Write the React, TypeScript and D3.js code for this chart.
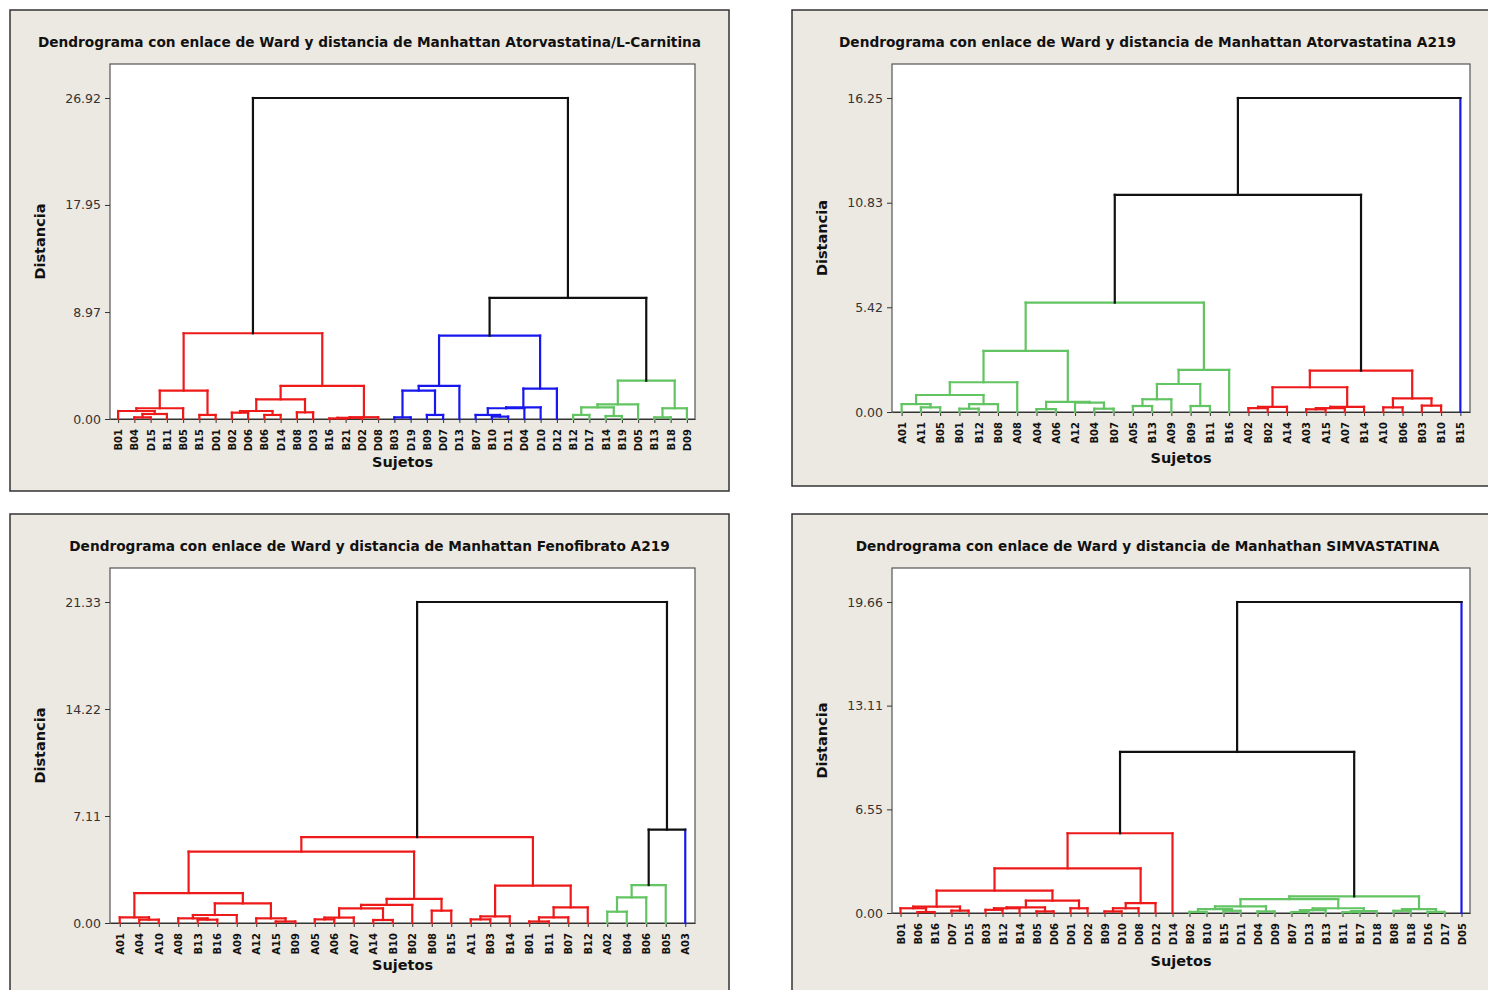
import { useEffect, useRef } from "react"
import * as d3 from "d3"

// a child is either a leaf label or the index of an earlier merge
type Child = string | number
type Merge = [Child, Child, number]

// --- Atorvastatina/L-Carnitina ---
const title1 = "Dendrograma con enlace de Ward y distancia de Manhattan Atorvastatina/L-Carnitina"
const leaves1 = ["B01","B04","D15","B11","B05","B15","D01","B02","D06","B06","D14","B08","D03","B16","B21","D02","D08",
  "B03","D19","B09","D07","D13","B07","B10","D11","D04","D10","D12",
  "B12","D17","B14","B19","D05","B13","B18","D09"]
const merges1: Merge[] = [
  ["B04","D15",0.14], [0,"B11",0.42], ["B01",1,0.67], [2,"B05",0.9], ["B15","D01",0.34], [3,4,2.38],
  ["B02","D06",0.53], ["B06","D14",0.34], [6,7,0.67], ["B08","D03",0.56], [8,9,1.65],
  ["B16","B21",0.05], [11,"D02",0.1], [12,"D08",0.15], [10,13,2.77], [5,14,7.19],
  ["B03","D19",0.14], ["B09","D07",0.34], [16,17,2.38], [18,"D13",2.77],
  ["B10","D11",0.2], ["B07",20,0.34], [21,"D04",0.9], [22,"D10",0.98], [23,"D12",2.55], [19,24,6.99],
  ["B12","D17",0.34], ["B14","B19",0.25], [26,27,0.98], [28,"D05",1.23], ["B13","B18",0.14], [30,"D09",0.9], [29,31,3.21],
  [25,32,10.15], [15,33,26.92],
]
const clusters1: Child[] = [15, 25, 32]
const ticks1 = ["0.00", "8.97", "17.95", "26.92"]

// --- Atorvastatina A219 ---
const title2 = "Dendrograma con enlace de Ward y distancia de Manhattan Atorvastatina A219"
const leaves2 = ["A01","A11","B05","B01","B12","B08","A08","A04","A06","A12","B04","B07","A05","B13","A09","B09","B11","B16",
  "A02","B02","A14","A03","A15","A07","B14","A10","B06","B03","B10","B15"]
const merges2: Merge[] = [
  ["A11","B05",0.24], ["A01",0,0.41], ["B01","B12",0.17], [2,"B08",0.41], [1,3,0.88], [4,"A08",1.54],
  ["A04","A06",0.15], ["B04","B07",0.17], ["A12",7,0.48], [6,8,0.52], [5,9,3.16],
  ["A05","B13",0.31], [11,"A09",0.66], ["B09","B11",0.31], [12,13,1.45], [14,"B16",2.18], [10,15,5.66],
  ["A02","B02",0.2], [17,"A14",0.27], ["A03","A15",0.14], [19,"A07",0.2], [20,"B14",0.27], [18,21,1.28],
  ["A10","B06",0.24], ["B03","B10",0.33], [23,24,0.7], [22,25,2.14],
  [16,26,11.24], [27,"B15",16.25],
]
const clusters2: Child[] = [16, 26, "B15"]
const ticks2 = ["0.00", "5.42", "10.83", "16.25"]

// --- Fenofibrato A219 ---
const title3 = "Dendrograma con enlace de Ward y distancia de Manhattan Fenofibrato A219"
const leaves3 = ["A01","A04","A10","A08","B13","B16","A09","A12","A15","B09","A05","A06","A07","A14","B10","B02","B08","B15",
  "A11","B03","B14","B01","B11","B07","B12","A02","B04","B06","B05","A03"]
const merges3: Merge[] = [
  ["A04","A10",0.22], ["A01",0,0.38], ["B13","B16",0.22], ["A08",2,0.31], [3,"A09",0.53],
  ["A15","B09",0.1], ["A12",5,0.31], [4,6,1.3], [1,7,1.99],
  ["A05","A06",0.24], [9,"A07",0.36], ["A14","B10",0.2], [10,11,0.97], [12,"B02",1.2],
  ["B08","B15",0.82], [13,14,1.6], [8,15,4.74],
  ["A11","B03",0.24], [17,"B14",0.44], ["B01","B11",0.1], [19,"B07",0.38], [20,"B12",1.04], [18,21,2.48],
  [16,22,5.71],
  ["A02","B04",0.75], [24,"B06",1.7], [25,"B05",2.52],
  [26,"A03",6.2], [23,27,21.33],
]
const clusters3: Child[] = [23, 26, "A03"]
const ticks3 = ["0.00", "7.11", "14.22", "21.33"]

// --- SIMVASTATINA ---
const title4 = "Dendrograma con enlace de Ward y distancia de Manhathan SIMVASTATINA"
const leaves4 = ["B01","B06","B16","D07","D15","B03","B12","B14","B05","D06","D01","D02","B09","D10","D08","D12","D14",
  "B02","B10","B15","D11","D04","D09","B07","D13","B13","B11","B17","D18","B08","B18","D16","D17","D05"]
const merges4: Merge[] = [
  ["B06","B16",0.06], ["B01",0,0.3], ["D07","D15",0.15], [1,2,0.4],
  ["B03","B12",0.2], [4,"B14",0.3], ["B05","D06",0.1], [5,6,0.36], ["D01","D02",0.3], [7,8,0.78], [3,9,1.41],
  ["B09","D10",0.1], [11,"D08",0.3], [12,"D12",0.63], [10,13,2.82], [14,"D14",5.04],
  ["B02","B10",0.07], ["B15","D11",0.14], [16,17,0.25], ["D04","D09",0.1], [18,19,0.42],
  ["B07","D13",0.06], [21,"B13",0.18], ["B11","B17",0.05], [23,"D18",0.12], [22,24,0.3], [20,25,0.88],
  ["B08","B18",0.14], ["D16","D17",0.07], [27,28,0.25], [26,29,1.05],
  [15,30,10.18], [31,"D05",19.66],
]
const clusters4: Child[] = [15, 30, "D05"]
const ticks4 = ["0.00", "6.55", "13.11", "19.66"]

const RED = "#ee1a1a"
const GREEN = "#62c462"
const BLUE = "#1818ee"
const BLACK = "#111"
const BG = "#ece9e2"
const FONT = "'DejaVu Sans', Verdana, sans-serif"

type Box = { x: number, y: number, w: number, h: number }
type Panel = {
  title: string
  leaves: string[]
  merges: Merge[]
  clusters: Child[]
  colors: string[]
  ticks: string[]
  frame: Box
  plot: Box
  xTitleY: number
}

const panels: Panel[] = [
  { title: title1, leaves: leaves1, merges: merges1, clusters: clusters1, colors: [RED, BLUE, GREEN], ticks: ticks1,
    frame: { x: 10, y: 10, w: 719, h: 481 }, plot: { x: 110, y: 64, w: 585, h: 355 }, xTitleY: 467 },
  { title: title2, leaves: leaves2, merges: merges2, clusters: clusters2, colors: [GREEN, RED, BLUE], ticks: ticks2,
    frame: { x: 792, y: 10, w: 711, h: 476 }, plot: { x: 892, y: 64, w: 578, h: 348 }, xTitleY: 463 },
  { title: title3, leaves: leaves3, merges: merges3, clusters: clusters3, colors: [RED, GREEN, BLUE], ticks: ticks3,
    frame: { x: 10, y: 514, w: 719, h: 490 }, plot: { x: 110, y: 568, w: 585, h: 355 }, xTitleY: 970 },
  { title: title4, leaves: leaves4, merges: merges4, clusters: clusters4, colors: [RED, GREEN, BLUE], ticks: ticks4,
    frame: { x: 792, y: 514, w: 711, h: 490 }, plot: { x: 892, y: 568, w: 578, h: 345 }, xTitleY: 966 },
]

function drawPanel(svg: d3.Selection<SVGSVGElement, unknown, null, undefined>, p: Panel) {
  const { frame, plot } = p
  const bottom = plot.y + plot.h
  const g = svg.append("g")

  g.append("rect")
    .attr("x", frame.x).attr("y", frame.y).attr("width", frame.w).attr("height", frame.h)
    .attr("fill", BG).attr("stroke", "#333").attr("stroke-width", 1.5)

  g.append("text")
    .attr("x", frame.x + frame.w / 2).attr("y", frame.y + 37)
    .attr("text-anchor", "middle").attr("font-family", FONT).attr("font-weight", "bold")
    .attr("font-size", 13.7).attr("fill", "#111")
    .text(p.title)

  g.append("rect")
    .attr("x", plot.x).attr("y", plot.y).attr("width", plot.w).attr("height", plot.h)
    .attr("fill", "#fff").attr("stroke", "#555").attr("stroke-width", 1.2)

  const yMax = +p.ticks[p.ticks.length - 1]
  const y = d3.scaleLinear().domain([0, yMax]).range([bottom, plot.y + 34])
  const x = d3.scalePoint<string>().domain(p.leaves).range([plot.x, plot.x + plot.w]).padding(0.5)

  // y axis
  const ya = g.append("g")
    .attr("transform", `translate(${plot.x},0)`)
    .call(d3.axisLeft(y).tickValues(p.ticks.map(Number)).tickFormat((_, i) => p.ticks[i]).tickSize(5).tickSizeOuter(0).tickPadding(4))
  ya.select(".domain").remove()
  ya.selectAll("line").attr("stroke", "#333")
  ya.selectAll("text").attr("font-family", FONT).attr("font-size", 12.5).attr("fill", "#333")

  // x axis (leaf labels)
  const xa = g.append("g")
    .attr("transform", `translate(0,${bottom})`)
    .call(d3.axisBottom(x).tickSize(4).tickSizeOuter(0))
  xa.select(".domain").attr("stroke", "#333")
  xa.selectAll("line").attr("stroke", "#333")
  xa.selectAll("text")
    .attr("transform", "rotate(-90)").attr("x", -10).attr("y", 0).attr("dy", "0.35em")
    .attr("text-anchor", "end").attr("font-family", FONT).attr("font-weight", "bold")
    .attr("font-size", 10).attr("fill", "#111")

  // node positions
  const nodeX: number[] = []
  const nodeH: number[] = []
  const px = (c: Child) => typeof c === "string" ? (x(c) as number) : nodeX[c]
  const ph = (c: Child) => typeof c === "string" ? 0 : nodeH[c]
  p.merges.forEach(([a, b, h], i) => { nodeX[i] = (px(a) + px(b)) / 2; nodeH[i] = h })

  // cluster colours
  const mergeColor: (string | undefined)[] = []
  const leafColor = new Map<string, string>()
  const paint = (c: Child, col: string) => {
    if (typeof c === "string") { leafColor.set(c, col); return }
    mergeColor[c] = col
    paint(p.merges[c][0], col)
    paint(p.merges[c][1], col)
  }
  p.clusters.forEach((c, i) => paint(c, p.colors[i]))

  const links = g.append("g").attr("fill", "none").attr("stroke-width", 2.2).attr("stroke-linecap", "square")
  p.merges.forEach(([a, b, h], i) => {
    const own = mergeColor[i]
    const legColor = (c: Child) => own ?? (typeof c === "string" ? leafColor.get(c) : undefined) ?? BLACK
    for (const c of [a, b]) {
      links.append("path")
        .attr("d", `M${px(c)},${y(ph(c))}V${y(h)}`)
        .attr("stroke", legColor(c))
    }
    links.append("path")
      .attr("d", `M${px(a)},${y(h)}H${px(b)}`)
      .attr("stroke", own ?? BLACK)
  })

  // axis titles
  g.append("text")
    .attr("transform", `translate(${frame.x + 35},${plot.y + plot.h / 2}) rotate(-90)`)
    .attr("text-anchor", "middle").attr("font-family", FONT).attr("font-weight", "bold")
    .attr("font-size", 14.5).attr("fill", "#111")
    .text("Distancia")

  g.append("text")
    .attr("x", plot.x + plot.w / 2).attr("y", p.xTitleY)
    .attr("text-anchor", "middle").attr("font-family", FONT).attr("font-weight", "bold")
    .attr("font-size", 14.5).attr("fill", "#111")
    .text("Sujetos")
}

export default function App() {
  const svgRef = useRef<SVGSVGElement>(null)

  useEffect(() => {
    if (!svgRef.current) return
    const svg = d3.select(svgRef.current)
    svg.selectAll("*").remove()
    panels.forEach(p => drawPanel(svg, p))
  }, [])

  return (
    <svg
      ref={svgRef}
      width={1488}
      height={990}
      style={{ position: "absolute", left: 0, top: 0, background: "#fff" }}
      xmlns="http://www.w3.org/2000/svg"
    />
  )
}
